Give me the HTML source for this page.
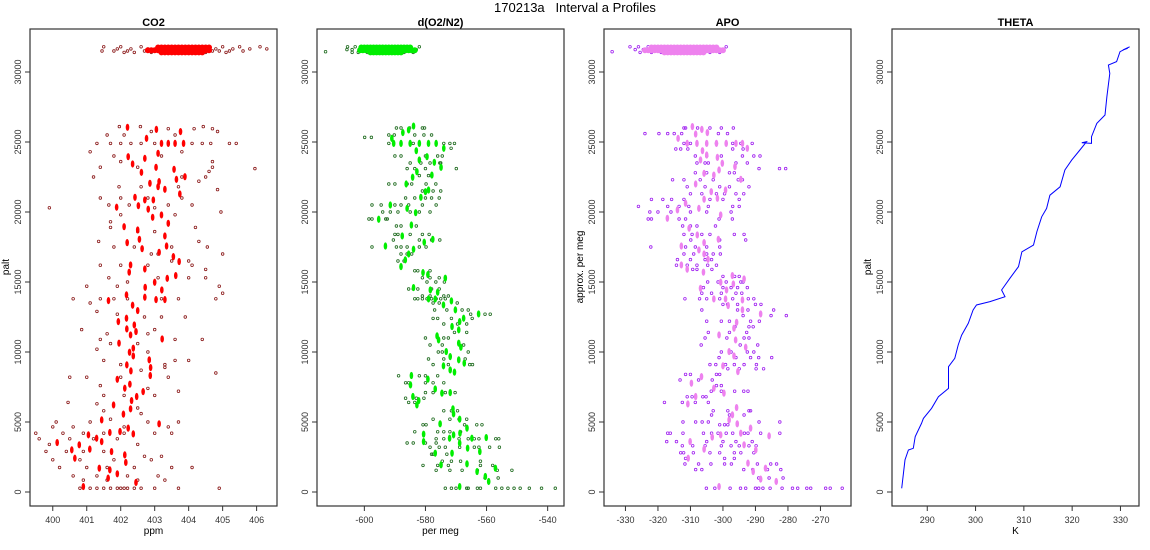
<!DOCTYPE html>
<html><head><meta charset="utf-8"><style>
html,body{margin:0;padding:0;background:#fff;}
svg{display:block;font-family:"Liberation Sans",sans-serif;}
</style></head><body>
<svg id="chart" width="1150" height="550" viewBox="0 0 1150 550" xmlns="http://www.w3.org/2000/svg">
<text x="575" y="12" font-size="13" text-anchor="middle" style="white-space:pre">170213a&#160;&#160;&#160;Interval a Profiles</text>
<g id="root"></g>
</svg>
<script>
// ---------- data ----------
const yTicks = [0, 5000, 10000, 15000, 20000, 25000, 30000];
const co2Ticks = [400, 401, 402, 403, 404, 405, 406];
const o2Ticks = [-600, -580, -560, -540];
const apoTicks = [-330, -320, -310, -300, -290, -280, -270];
const thetaTicks = [290, 300, 310, 320, 330];

// rows: [palt, values...]
const co2TopDark = [
 [31800, 401.5, 402.0, 402.6, 403.1, 403.6, 404.1, 404.6, 405.0, 405.5, 406.1],
 [31650, 401.9, 402.3, 402.8, 403.3, 403.8, 404.3, 404.8, 405.3, 405.8, 406.3],
 [31500, 401.45, 401.8, 402.2, 402.7, 403.0, 404.7, 404.9, 405.2, 405.6],
 [31400, 402.1, 402.4, 402.9, 403.5, 404.5, 405.1]
];
const co2TopBright = [
 [31750, 403.1,403.2,403.3,403.4,403.5,403.6,403.7,403.8,403.9,404.0,404.1,404.2,404.3,404.4,404.5,404.6],
 [31550, 402.8,402.9,403.0,403.1,403.2,403.3,403.4,403.5,403.6,403.7,403.8,403.9,404.0,404.1,404.2,404.3,404.4,404.5,404.6],
 [31400, 403.2,403.3,403.4,403.5,403.6,403.7,403.8,403.9,404.0,404.1,404.2,404.3,404.4]
];
const co2Bright = [
 [402.2,26050],[403.05,25900],[403.76,25740],[402.76,25260],[403.2,24900],[403.4,24900],[403.6,24900],[403.85,24900],
 [402.22,23950],[402.71,23830],[403.1,24190],[402.35,23430],[403.04,23190],[402.61,22830],[403.57,23050],
 [402.86,22050],[403.13,22170],[403.64,22330],[403.89,22520],[403.1,21810],[403.3,21620],[403.74,21290],
 [402.42,21050],[402.71,20860],[402.96,20860],[401.88,20340],[402.52,20450],[402.81,20200],[402.94,19620],
 [403.2,19790],[403.4,19190],[402.1,18950],[402.5,18720],[402.55,18050],[403.3,18290],[402.19,17810],
 [402.63,17380],[403.35,17570],[403.13,17120],[403.55,16810],[403.72,16460],[402.29,16220],[402.25,15700],
 [402.71,15930],[403.37,15260],[403.62,15460],[403.0,14980],[403.21,14430],[402.72,14620],[401.64,13670],
 [402.17,14080],[402.71,13910],[403.04,13740],[403.3,13740],[402.35,13340],[402.5,12960],[402.17,12410],
 [401.93,12170],[402.4,11930],[402.45,11460],[402.18,11650],[402.29,11220],[403.22,10930],[401.95,10630],
 [402.37,10270],[402.26,9980],[402.37,9720],[402.84,9440],[402.18,9080],[402.88,8890],[402.3,8650],
 [402.87,8320],[401.9,8050],[402.27,7700],[402.12,7410],[402.66,7170],[402.47,6820],[402.32,6530],
 [401.79,6220],[402.29,5940],[402.08,5560],[401.44,5150],[403.13,4870],[402.22,4560],[401.98,4320],
 [402.37,4150],[401.05,4080],[401.29,3840],[401.68,4250],[400.13,3530],[400.78,3370],[401.44,3600],
 [401.09,3060],[401.73,2890],[400.56,3010],[402.12,2650],[400.65,2410],[402.15,2110],[401.37,1700],
 [401.68,1580],[401.9,1300],[401.63,990],[402.45,680],[400.9,390]
];
const co2Dark = [
 [26100, 401.96, 402.58, 404.43], [25950, 403.4, 404.16, 404.7], [25750, 404.85, 402.9], [25500, 401.6, 402.1, 403.6],
 [24900, 401.3, 401.7, 402.0, 402.3, 402.6, 403.0, 404.1, 404.4, 404.65, 405.2, 405.4],
 [24300, 401.1, 403.8], [24000, 401.8, 403.2], [23600, 402.0, 404.7], [23200, 401.4, 402.5, 404.7], [23100, 405.95],
 [22900, 404.6], [22500, 401.2, 403.8, 404.5], [22200, 404.3], [21800, 401.95, 402.6, 403.7], [21600, 404.85],
 [21000, 401.4, 402.0, 402.8, 403.8], [20500, 401.65, 402.25, 403.4, 404.1], [20300, 399.9, 403.0], [20000, 404.95],
 [19800, 402.0, 403.6], [19300, 401.7], [18900, 401.7, 404.2], [18600, 402.5, 403.0], [17900, 401.35, 404.3],
 [17500, 401.8, 402.4, 403.5, 404.55], [17000, 402.9, 403.1, 405.0], [16500, 403.5, 404.0],
 [16200, 401.4, 402.0, 402.8, 404.1], [15900, 404.5], [15300, 401.65, 403.1, 404.0, 404.5], [15000, 402.2],
 [14700, 401.0, 401.9, 404.9], [14200, 405.0], [13800, 400.6, 401.4, 401.8, 402.2, 403.2, 403.7, 404.8],
 [13500, 401.1], [12900, 401.3], [12700, 401.9], [12500, 402.7, 403.2, 403.9], [11600, 400.85, 403.0],
 [11300, 401.6, 402.8], [10900, 401.4, 403.6, 404.4], [10600, 401.7, 402.5], [10200, 401.3], [10000, 402.8],
 [9400, 401.5, 403.6, 404.0], [9100, 402.0, 403.3], [8900, 403.3], [8700, 402.6], [8500, 404.8],
 [8200, 400.5, 401.0, 402.0, 403.4], [7600, 401.4], [7400, 402.8], [7200, 403.7], [6900, 401.5, 402.1, 403.0],
 [6400, 400.45], [6300, 401.3], [6000, 402.5], [5800, 401.5], [5600, 402.6], [5200, 401.7],
 [5000, 400.1, 401.1, 402.8, 403.7], [4650, 400.0, 400.6, 402.1, 403.4],
 [4200, 399.5, 400.3, 400.9, 401.5, 402.1, 403.0, 403.5], [3800, 399.6, 400.5, 401.2, 401.9],
 [3400, 399.9, 402.5], [2900, 399.8, 400.4, 400.9, 401.5], [2550, 402.7, 403.2],
 [2300, 400.0, 400.8, 401.8, 402.9], [1750, 400.2, 401.0, 401.6, 402.4, 403.5, 404.1],
 [1150, 400.6, 401.3, 402.2, 403.1], [850, 400.9, 401.6, 402.5, 403.3],
 [270, 400.8, 401.1, 401.3, 401.5, 401.7, 401.9, 402.0, 402.1, 402.2, 402.4, 402.6, 403.0, 403.7, 404.9]
];

const o2TopDark = [
 [31450, -612.7],
 [31800, -605.5, -603, -600, -597, -594, -591, -588, -585, -582],
 [31600, -605.7, -604, -601, -598, -595, -592, -589, -586, -583],
 [31400, -604, -602, -599, -596, -593, -590, -587, -584]
];
const o2TopBright = [
 [31750, -601, -600, -599, -598, -597, -596, -595, -594, -593, -592, -591, -590, -589, -588, -587, -586, -585],
 [31550, -601.4, -600.5, -599.5, -598.5, -597.5, -596.5, -595.5, -594.5, -593.5, -592.5, -591.5, -590.5, -589.5, -588.5, -587.5, -586.5, -585.5, -584.5, -583.5],
 [31400, -598, -597, -596, -595, -594, -593, -592, -591, -590, -589, -588]
];
const o2Bright = [
 [-583.9,26140],[-585.5,25860],[-587.4,25670],[-591,25260],[-590.4,24900],[-588,24900],[-585,24900],[-582,24900],
 [-579,24900],[-576.5,24900],[-583,24380],[-579.5,23950],[-577.1,23550],[-574,24550],[-582,23720],[-574.9,23190],
 [-582.8,22880],[-577.9,22640],[-584.2,22480],[-586.3,22000],[-580,21450],[-579,21570],[-581.5,21050],[-586,20260],
 [-583.2,19950],[-595.3,19480],[-591.5,20500],[-584.6,19070],[-587.6,18290],[-580.4,17840],[-577.6,18050],
 [-583.9,17340],[-585.5,17000],[-586.6,16580],[-588,16100],[-593.1,17570],[-580.8,15670],[-579.2,15530],
 [-583.9,14600],[-578.4,14430],[-576,14270],[-573.5,15270],[-579,13790],[-576.8,13790],[-574.1,13360],
 [-571.5,13650],[-570.2,13010],[-562.6,12720],[-567.5,12410],[-568.8,12170],[-571.3,11820],[-569.1,11580],
 [-576.2,11150],[-575.7,10860],[-569.1,10630],[-568.4,10340],[-573.2,10030],[-571.9,9670],[-569.1,9440],
 [-567.3,9200],[-574.1,9010],[-571.9,8720],[-570.5,8560],[-584.6,8320],[-579.2,8060],[-584.9,7650],
 [-576.8,7360],[-574.6,7060],[-571.9,7100],[-584.1,6820],[-582.2,6530],[-582.8,6220],[-571,5940],
 [-570.8,5580],[-568.8,5200],[-575.2,4870],[-566.4,4560],[-580.6,4130],[-570.8,4080],[-568.7,4200],
 [-572.1,3840],[-564.8,3840],[-560.1,3890],[-580.6,3600],[-568.8,3490],[-566.2,3130],[-562.2,2890],
 [-576.8,2770],[-571.3,2770],[-566.4,2010],[-574.9,1940],[-563.1,1460],[-557.1,1700],[-560.4,1110],
 [-559.3,750],[-568.8,390]
];
const o2Dark = [
 [26000, -589.5, -588, -585.2, -581, -580.3], [25500, -592, -590.2, -583.5, -580.5, -578], [25330, -599.9, -597.7],
 [24900, -592, -584, -574, -572, -570.5], [24550, -571.6], [24000, -590, -588, -580, -576, -574.5],
 [23500, -585, -581.5, -578.5, -575, -575.3], [23100, -586, -583.5, -580, -569.9], [22600, -582, -579, -578],
 [22000, -592, -590, -586, -584.5, -579.8, -576.6], [21500, -581, -577.5, -575, -580],
 [21000, -586.5, -583.5, -580, -578, -575.5], [20500, -597.5, -594.5, -590, -588, -585.5, -581, -576.5],
 [20000, -594, -591.5, -589, -585, -582, -578.5], [19500, -598.5, -597.5, -593, -592.5], [19000, -589.5, -588, -583],
 [18400, -590, -589, -585, -581, -578.8], [18000, -590.5, -582, -578, -575.3],
 [17500, -597.5, -589.5, -586, -588, -582, -579.8], [17000, -588, -584.5, -586], [16500, -589, -587],
 [15800, -582.5, -583.5, -578.5], [15300, -581, -578.5, -575.5, -573.5], [15000, -579.5, -576.6, -573.8],
 [14500, -585.5, -584, -582.5, -578, -575.5], [14000, -581, -578.5, -574, -572.5],
 [13800, -583.5, -582.5, -581, -579.5, -578, -576.5, -575, -573.5], [13500, -577.5, -575.5, -569.6],
 [13000, -577, -573, -568, -566], [12700, -565.2, -560.5, -558.8], [12400, -577.5, -576, -571.5, -564.7],
 [12000, -574, -569.5, -566.5], [11400, -566.5, -570.5], [11000, -580, -574, -572.5],
 [10500, -578.5, -574.5, -567.5], [10000, -574.5, -575.8, -566], [9500, -579, -574, -567],
 [9100, -577.5, -572.5, -565.5, -564.6], [8300, -588.8, -582, -580, -576], [7800, -586.5, -585.5, -580, -577.5, -574],
 [7100, -580, -577.5, -573.5, -570.3], [6700, -586.5, -580.5, -583], [6400, -585.5, -583.5],
 [5800, -574, -571.5, -569.5], [5200, -577.5, -572, -569, -566.5], [4800, -580.8, -579.8, -567.2, -563.2, -561.5],
 [4300, -583.5, -576, -574, -572, -568.5], [3800, -576.5, -574, -569, -566, -564, -562.5, -557, -556],
 [3500, -586, -584, -580, -576.5], [3200, -578.5, -575.5, -573.5, -568.8, -564, -562.5, -559, -555.8],
 [2700, -578, -577.5, -573], [2200, -574.5, -571.5, -568.5, -562], [1900, -580.8, -576, -572.5, -562, -558],
 [1550, -576.5, -572, -568, -563, -556.5, -551.7], [1000, -560.5, -556.2],
 [270, -573.5, -571.5, -570, -566.5, -566, -563, -562, -557, -555, -553, -551, -549, -546, -542, -537.5]
];

const apoTopDark = [
 [31450, -334.1],
 [31800, -328.6, -326, -323, -320, -317, -314, -311, -308, -305, -302, -299],
 [31600, -327, -324.5, -321.5, -318.5, -315.5, -312.5, -309.5, -306.5, -303.5, -300.5],
 [31400, -325.5, -322, -319, -316, -313, -310, -307, -304, -301]
];
const apoTopBright = [
 [31750, -322, -321, -320, -319, -318, -317, -316, -315, -314, -313, -312, -311, -310, -309, -308, -307, -306, -305, -304, -303, -302],
 [31550, -324, -323, -322, -321, -320, -319, -318, -317, -316, -315, -314, -313, -312, -311, -310, -309, -308, -307, -306, -305, -304, -303, -302, -301, -300],
 [31400, -318, -317, -316, -315, -314, -313, -312, -311, -310, -309, -308, -307, -306]
];
const apoBright = [
 [-309.4,26100],[-306.5,25900],[-304.8,25670],[-308.4,25570],[-313.8,25260],[-311,24900],[-308,24900],[-305,24900],
 [-302,24900],[-299,24900],[-296,24900],[-294,24900],[-292.5,24550],[-306.3,24380],[-305,24070],[-301.7,23900],
 [-306.9,23720],[-300.2,23480],[-296.3,23240],[-301.2,23000],[-305.8,22760],[-302.8,22640],[-294.5,22330],
 [-308.4,22000],[-303.6,21450],[-299.2,21570],[-301.7,20980],[-305.8,20910],[-311.5,20620],[-314,20150],
 [-307.4,20260],[-300.7,19790],[-317.1,19550],[-310.4,18840],[-307.9,18360],[-301.4,18050],[-305.8,17810],
 [-312.8,17570],[-307.4,17290],[-305.8,17000],[-304.6,16620],[-312.8,16220],[-311,15910],[-306,15700],
 [-297.1,15460],[-300.7,14980],[-293.5,15220],[-306.9,14550],[-298.9,14430],[-296.8,14860],[-302.8,13790],
 [-299.2,13790],[-294,13720],[-298.4,13320],[-294,13010],[-288.4,12720],[-295.8,12120],[-296.6,11700],
 [-301.2,11220],[-296.1,10860],[-293,10340],[-298.1,10030],[-296.6,9720],[-300,9010],[-295.4,8600],
 [-306.6,8240],[-309.7,7770],[-302.8,7410],[-299.7,7060],[-308.4,6820],[-310.8,6290],[-295.8,6030],
 [-297.1,5510],[-298.1,5150],[-295.6,4870],[-300.7,4080],[-303.3,3920],[-294.5,4200],[-291.5,4560],
 [-285.8,4010],[-310.1,3600],[-293.5,3370],[-289.9,3010],[-305.8,3060],[-310.7,2410],[-292.3,2060],
 [-286.9,1700],[-290.7,1460],[-288.4,920],[-283.6,750],[-301.2,390]
];
const apoDark = [
 [26000, -312, -311.5, -307.8, -304, -300.5, -296.8], [25600, -324, -319.7, -317, -315, -312.7, -301.4, -298.6],
 [24900, -312, -310, -302, -297, -294.5, -291], [24500, -314.5, -313, -310.8, -297, -293.8],
 [24000, -308.5, -305, -300.5, -294, -290.5, -288.6], [23500, -308, -305.5, -304.5, -296, -292.5],
 [23100, -288.9, -282.6, -280.7], [22800, -308.5, -305, -298, -296.5], [22300, -315.5, -312, -307, -303, -295.3, -294],
 [21800, -311, -305.5, -301, -298, -292], [21300, -310, -306.5, -302, -299.5, -296, -293.6],
 [20900, -322, -318.5, -315.8, -312, -304, -300, -295], [20400, -326, -317, -313.5, -310.5, -304.5, -297, -295],
 [20000, -322.5, -320, -316, -310, -305, -297.5], [19500, -323, -322, -313.5, -311.5, -301.2, -297.1],
 [19000, -312.4, -310, -308, -302.3], [18400, -312, -309.5, -306.5, -304, -296.5, -293.5], [18000, -309.9, -301, -293],
 [17500, -322.2, -311.5, -308.5, -305, -301], [17000, -312, -309, -305, -303, -300.8], [16600, -314, -310, -305.5, -303.5],
 [16200, -314.3, -311, -308, -304.7, -302], [15900, -309.3, -308, -303.4], [15400, -300, -296.4, -295],
 [15000, -304.7, -301.5, -299, -294.5, -293.8], [14600, -306, -300, -297.5, -295.5, -292.5],
 [14200, -306.5, -303.5, -300.5, -296, -294.2], [13800, -311.7, -307.2, -305, -301, -297, -292.2, -290.5],
 [13400, -300, -298.6, -295.5, -290, -288.3], [13000, -306.5, -295.5, -292.3, -284.4], [12600, -285.2, -280.5, -293.8],
 [12200, -305, -300.5, -298, -291.5, -288.8], [11800, -296.3, -292, -290.7], [11400, -304.5, -298, -292.7],
 [11000, -305.5, -298.8, -293.5, -292], [10500, -306.7, -294.7, -289.3], [10000, -300.5, -297.5, -292.5, -290.5],
 [9600, -301.2, -296, -291.5, -289, -285], [9100, -304, -302.2, -299.2, -296.5, -293.5, -289.7],
 [8800, -298.5, -295, -289.8, -287.5], [8400, -311.5, -310, -302, -301], [8000, -313.2, -307.5, -303.3],
 [7600, -302, -300.5], [7200, -303.6, -300.5, -296.4, -293.6, -292.3], [6800, -311, -309.5, -305.2, -306.2],
 [6400, -318, -312.5, -308.5, -304.5], [5800, -303, -298.5, -292, -291.5], [5500, -303.5, -298, -293.5],
 [5000, -312.3, -308.4, -306.4, -304.5, -288.9, -282.5], [4800, -301, -299.5, -298.5],
 [4200, -317, -316.2, -312.3, -306, -303.5, -301.5, -299, -297, -293.4, -292.3, -288.4, -282.5],
 [3600, -317.3, -314.3, -305, -300, -296, -291], [3300, -312.5, -309.3, -305.5, -300.5, -297.5, -295, -292, -289.8],
 [2800, -313, -312.1, -309.1, -304, -301, -296.5, -294.5, -290.5], [2400, -311.5, -296.5, -299.5],
 [2000, -311.7, -307.5, -303.7, -299.5, -297.4, -289.4, -285.3, -283.5], [1600, -308.4, -306.5, -293.6, -290.8, -286.3, -282.2],
 [1000, -289, -285.8, -281.5],
 [270, -305.1, -302.5, -297.8, -294.6, -293, -290, -289, -287.7, -285.5, -281.8, -278.6, -277, -274.2, -273, -268.4, -267, -263.3]
];

const thetaK = [284.7,285.4,286.1,287.1,287.5,288.8,289.2,290.9,292.3,294.4,294.4,295.7,296.4,297.1,298.5,299.5,300.2,303,306.1,305.4,307.1,308.9,309.6,312,312.7,313.7,314.7,315.4,317.5,318.5,319.9,321.6,323,322,324,324,325.1,326.8,327.2,327.8,327.5,329.2,329.9,331.9,330.5,331.5];
const thetaAlt = [264,2290,3000,3120,3950,4900,5260,5980,6810,7400,8950,9550,10500,11200,12050,13000,13360,13600,13950,14430,15260,16100,17160,17640,18600,19660,20260,21200,21800,23000,23710,24430,25020,24950,24900,25380,26330,26930,28240,29900,30500,30740,31450,31800,31570,31690];

// ---------- drawing ----------
const NS = 'http://www.w3.org/2000/svg';
const root = document.getElementById('root');
const TOP = 29, BOT = 506;
function yScale(a){ return 492 - a * 420 / 30000; }
function mk(tag, attrs, parent){
  const e = document.createElementNS(NS, tag);
  for (const k in attrs) e.setAttribute(k, attrs[k]);
  (parent || root).appendChild(e);
  return e;
}
const panels = [
 {key:'co2', title:'CO2', left:30, xmin:399.33, xmax:406.6, ticks:co2Ticks, xlabel:'ppm', ylabel:'palt', dark:'#8b1a1a', bright:'#ff0000'},
 {key:'o2', title:'d(O2/N2)', left:317, xmin:-615.5, xmax:-534.65, ticks:o2Ticks, xlabel:'per meg', ylabel:'', dark:'#1f6b1f', bright:'#00ee00'},
 {key:'apo', title:'APO', left:604, xmin:-336.6, xmax:-260.6, ticks:apoTicks, xlabel:'', ylabel:'approx. per meg', dark:'#a020f0', bright:'#ee82ee'},
 {key:'theta', title:'THETA', left:892, xmin:282.7, xmax:333.84, ticks:thetaTicks, xlabel:'K', ylabel:'palt', dark:'#0000ff', bright:'#0000ff'}
];
const W = 247;
const pointSets = {
  co2: {topDark:co2TopDark, topBright:co2TopBright, dark:co2Dark, bright:co2Bright},
  o2: {topDark:o2TopDark, topBright:o2TopBright, dark:o2Dark, bright:o2Bright},
  apo: {topDark:apoTopDark, topBright:apoTopBright, dark:apoDark, bright:apoBright}
};

panels.forEach(p => {
  const g = mk('g', {});
  
  
  const xs = v => p.left + (v - p.xmin) / (p.xmax - p.xmin) * W;

  const t = mk('text', {x: p.left + W/2, y: 26, 'font-size': 11, 'font-weight': 'bold', 'text-anchor': 'middle'}, g);
  t.textContent = p.title;
  
  

  yTicks.forEach(v => {
    const y = yScale(v);
    mk('line', {x1: p.left - 5, x2: p.left, y1: y, y2: y, stroke: '#333', 'stroke-width': 1}, g);
    const lb = mk('text', {x: p.left - 9, y: y, 'font-size': 9, fill: '#333', 'text-anchor': 'middle', transform: `rotate(-90 ${p.left - 9} ${y})`}, g);
    lb.textContent = v;
    
    
  });
  p.ticks.forEach(v => {
    const x = xs(v);
    mk('line', {x1: x, x2: x, y1: BOT, y2: BOT + 5, stroke: '#333', 'stroke-width': 1}, g);
    const lb = mk('text', {x: x, y: BOT + 17, 'font-size': 9, fill: '#333', 'text-anchor': 'middle'}, g);
    lb.textContent = v;
    
    
  });
  if (p.xlabel) {
    const xl = mk('text', {x: p.left + W/2, y: 534, 'font-size': 10, 'text-anchor': 'middle'}, g);
    xl.textContent = p.xlabel;
    
    
  }
  if (p.ylabel) {
    const cx = p.left - 21, cy = 267;
    const yl = mk('text', {x: cx, y: cy, 'font-size': 10, 'text-anchor': 'middle', transform: `rotate(-90 ${cx} ${cy})`}, g);
    yl.textContent = p.ylabel;
    
    
  }

  const s = pointSets[p.key];
  if (s) {
    const dot = (v, a) => {
      const c = mk('circle', {cx: xs(v), cy: yScale(a), r: 1.3, fill: 'none', stroke: p.dark, 'stroke-width': 0.8}, g);
      
      
    };
    const blob = (v, a, rx, ry) => {
      const c = mk('ellipse', {cx: xs(v), cy: yScale(a), rx: rx, ry: ry, fill: p.bright}, g);
      
      
    };
    s.dark.forEach(r => r.slice(1).forEach(v => dot(v, r[0])));
    s.topDark.forEach(r => r.slice(1).forEach(v => dot(v, r[0])));
    s.bright.forEach(d => blob(d[0], d[1], 1.8, 3.6));
    s.topBright.forEach(r => r.slice(1).forEach(v => blob(v, r[0], 3, 3)));
  } else {
    const pts = thetaK.map((k, i) => xs(k).toFixed(1) + ',' + yScale(thetaAlt[i]).toFixed(1)).join(' ');
    const pl = mk('polyline', {points: pts, fill: 'none', stroke: '#0000ff', 'stroke-width': 1}, g);
    
    
  }

  const box = mk('rect', {x: p.left, y: TOP, width: W, height: BOT - TOP, fill: 'none', stroke: '#333', 'stroke-width': 1.2}, g);
  
  
});
</script>
</body></html>
